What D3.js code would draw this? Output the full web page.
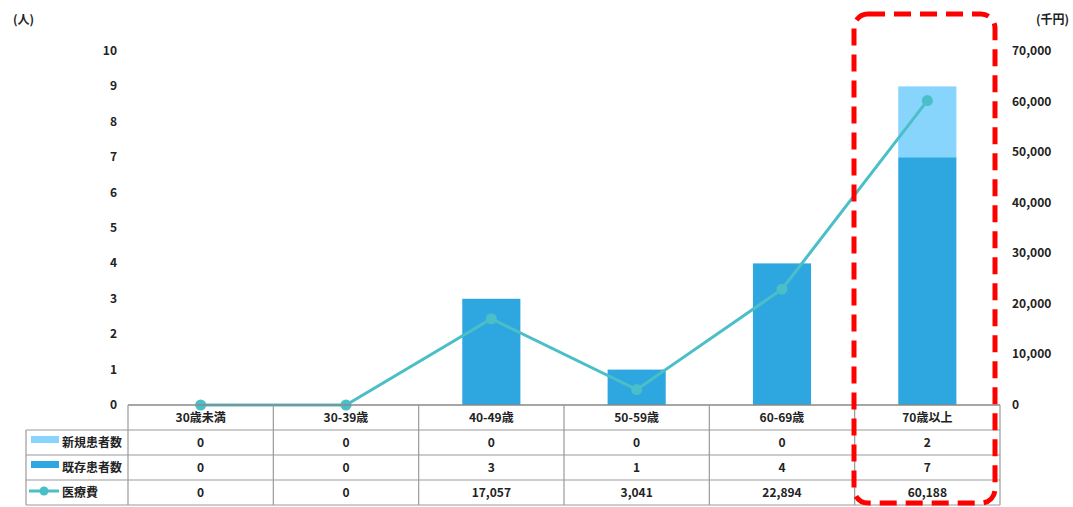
<!DOCTYPE html>
<html><head><meta charset="utf-8">
<script src="https://cdn.jsdelivr.net/npm/d3@7"></script>
<style>
body{margin:0;background:#fff;}
text{font-family:"Noto Sans CJK JP","Noto Sans",sans-serif;font-weight:bold;fill:#222;}
</style></head>
<body>
<svg id="c" width="1073" height="507"></svg>
<script>
const categories = ["30歳未満","30-39歳","40-49歳","50-59歳","60-69歳","70歳以上"];
const newPatients = [0,0,0,0,0,2];
const existingPatients = [0,0,3,1,4,7];
const medicalCost = [0,0,17057,3041,22894,60188];
const leftTicks = [0,1,2,3,4,5,6,7,8,9,10];
const rightTicks = [0,10000,20000,30000,40000,50000,60000,70000];
const seriesNames = ["新規患者数","既存患者数","医療費"];

const colNew = "#87D4FC", colExist = "#2EA7E0", colLine = "#4BBFC8";
const svg = d3.select("#c");
const L = 128, R = 1000, T = 51, B = 405;
const x = d3.scaleBand().domain(categories).range([L,R]).paddingInner(0).paddingOuter(0);
const yL = d3.scaleLinear().domain([0,10]).range([B,T]);
const yR = d3.scaleLinear().domain([0,70000]).range([B,T]);

// bars
const bw = x.bandwidth()*0.4;
categories.forEach((c,i)=>{
  const cx = x(c)+x.bandwidth()/2;
  if(existingPatients[i]>0) svg.append("rect").attr("x",cx-bw/2).attr("width",bw)
    .attr("y",yL(existingPatients[i])).attr("height",yL(0)-yL(existingPatients[i])).attr("fill",colExist);
  if(newPatients[i]>0) svg.append("rect").attr("x",cx-bw/2).attr("width",bw)
    .attr("y",yL(existingPatients[i]+newPatients[i])).attr("height",yL(existingPatients[i])-yL(existingPatients[i]+newPatients[i])).attr("fill",colNew);
});

// line
const line = d3.line().x((d,i)=>x(categories[i])+x.bandwidth()/2).y(d=>yR(d));
svg.append("path").datum(medicalCost).attr("d",line).attr("fill","none").attr("stroke",colLine).attr("stroke-width",3);
svg.selectAll("circle.pt").data(medicalCost).enter().append("circle")
  .attr("cx",(d,i)=>x(categories[i])+x.bandwidth()/2).attr("cy",d=>yR(d)).attr("r",5.5).attr("fill",colLine);

// axes labels
const fmt = d3.format(",");
leftTicks.forEach(t=>svg.append("text").attr("x",117).attr("y",yL(t)+4).attr("text-anchor","end").attr("font-size",12).text(t));
rightTicks.forEach(t=>svg.append("text").attr("x",1012).attr("y",yR(t)+4).attr("text-anchor","start").attr("font-size",12).text(fmt(t)));
svg.append("text").attr("x",13).attr("y",24).attr("font-size",12).text("(人)");
svg.append("text").attr("x",1036).attr("y",24).attr("font-size",12).text("(千円)");

// table
const gridCol = "#9a9a9a";
const rowY = [405,430,455,480,505];
const g = svg.append("g").attr("stroke",gridCol).attr("stroke-width",1.2);
g.append("line").attr("x1",L).attr("x2",R).attr("y1",405).attr("y2",405).attr("stroke","#888").attr("stroke-width",1.5);
[430,455,480,505].forEach(yy=>g.append("line").attr("x1",26).attr("x2",R).attr("y1",yy).attr("y2",yy));
g.append("line").attr("x1",26).attr("x2",26).attr("y1",430).attr("y2",505);
[...categories.map(c=>x(c)), R].forEach(xx=>g.append("line").attr("x1",xx).attr("x2",xx).attr("y1",405).attr("y2",505));

categories.forEach((c,i)=>{
  const cx = x(c)+x.bandwidth()/2;
  svg.append("text").attr("x",cx).attr("y",422).attr("text-anchor","middle").attr("font-size",12).text(c);
  svg.append("text").attr("x",cx).attr("y",447).attr("text-anchor","middle").attr("font-size",12).text(newPatients[i]);
  svg.append("text").attr("x",cx).attr("y",472).attr("text-anchor","middle").attr("font-size",12).text(existingPatients[i]);
  svg.append("text").attr("x",cx).attr("y",497).attr("text-anchor","middle").attr("font-size",12).text(fmt(medicalCost[i]));
});

// legend keys
svg.append("rect").attr("x",31).attr("y",436).attr("width",28).attr("height",7).attr("fill",colNew);
svg.append("rect").attr("x",31).attr("y",461).attr("width",28).attr("height",7).attr("fill",colExist);
svg.append("line").attr("x1",29).attr("x2",59).attr("y1",491).attr("y2",491).attr("stroke",colLine).attr("stroke-width",3);
svg.append("circle").attr("cx",44).attr("cy",491).attr("r",4.5).attr("fill",colLine);
seriesNames.forEach((s,i)=>svg.append("text").attr("x",62).attr("y",447+25*i).attr("font-size",12).text(s));

// red dashed highlight
svg.append("rect").attr("x",854).attr("y",14).attr("width",141).attr("height",489).attr("rx",14).attr("ry",14)
  .attr("fill","none").attr("stroke","#FF0000").attr("stroke-width",5).attr("stroke-dasharray","17,9");
</script>
</body></html>
